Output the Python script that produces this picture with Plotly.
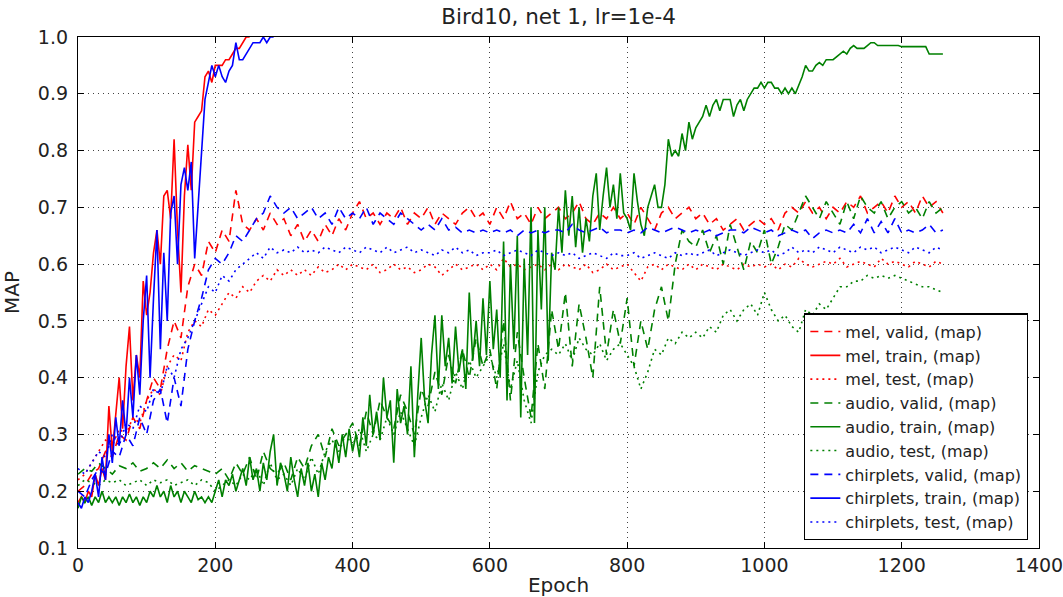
import plotly.graph_objects as go

# ---------------- data ----------------
mel_train_epochs = list(range(0, 251, 5))
mel_train = [0.18, 0.19, 0.18, 0.20, 0.19, 0.23, 0.21, 0.24, 0.22, 0.35,
             0.27, 0.33, 0.40, 0.31, 0.42, 0.49, 0.36, 0.44, 0.40, 0.57,
             0.51, 0.55, 0.62, 0.66, 0.60, 0.72, 0.73, 0.68, 0.82, 0.66,
             0.55, 0.72, 0.81, 0.73, 0.85, 0.86, 0.87, 0.93, 0.94, 0.92,
             0.95, 0.95, 0.95, 0.96, 0.96, 0.97, 0.98, 0.98, 0.99, 1.0,
             1.0]

chirp_train_epochs = list(range(0, 286, 5))
chirp_train = [0.18, 0.17, 0.19, 0.18, 0.20, 0.23, 0.19, 0.26, 0.22, 0.30,
               0.25, 0.33, 0.28, 0.36, 0.30, 0.40, 0.33, 0.44, 0.37, 0.50,
               0.58, 0.40, 0.54, 0.66, 0.45, 0.62, 0.50, 0.69, 0.72, 0.60,
               0.74, 0.77, 0.73, 0.78, 0.61, 0.70, 0.79, 0.89, 0.92, 0.95,
               0.93, 0.95, 0.93, 0.92, 0.94, 0.95, 0.99, 0.96, 0.96, 0.97,
               0.98, 0.99, 0.99, 0.99, 1.0, 0.99, 1.0, 1.0]

audio_train_epochs = list(range(0, 1261, 5))
audio_train = [0.17, 0.19, 0.18, 0.19, 0.175, 0.19, 0.18, 0.20, 0.18, 0.19,
               0.18, 0.19, 0.175, 0.19, 0.18, 0.195, 0.18, 0.19, 0.175, 0.19,
               0.18, 0.20, 0.19, 0.21, 0.19, 0.20, 0.18, 0.21, 0.19, 0.20,
               0.18, 0.20, 0.19, 0.18, 0.20, 0.185, 0.19, 0.18, 0.19, 0.18,
               0.20, 0.22, 0.19, 0.22, 0.21, 0.23, 0.20, 0.22, 0.24, 0.21,
               0.26, 0.22, 0.24, 0.20, 0.25, 0.22, 0.27, 0.30, 0.21, 0.25,
               0.23, 0.20, 0.26, 0.22, 0.19, 0.24, 0.21, 0.25, 0.20, 0.23,
               0.19, 0.25, 0.22, 0.26, 0.24, 0.29, 0.25, 0.30, 0.26, 0.31,
               0.27, 0.30, 0.26, 0.33, 0.28, 0.37, 0.30, 0.34, 0.29, 0.40,
               0.33, 0.36, 0.25, 0.38, 0.32, 0.35, 0.30, 0.42, 0.26, 0.37,
               0.47, 0.36, 0.32, 0.44, 0.51, 0.38, 0.51, 0.42, 0.47, 0.39,
               0.49, 0.41, 0.45, 0.38, 0.55, 0.43, 0.50, 0.42, 0.54, 0.44,
               0.57, 0.45, 0.52, 0.40, 0.64, 0.36, 0.60, 0.45, 0.65, 0.33,
               0.61, 0.44, 0.70, 0.32, 0.66, 0.52, 0.70, 0.43, 0.62, 0.59,
               0.70, 0.62, 0.73, 0.65, 0.72, 0.63, 0.70, 0.62, 0.68, 0.64,
               0.72, 0.76, 0.66, 0.72, 0.77, 0.70, 0.74, 0.68, 0.76, 0.69,
               0.68, 0.66, 0.76, 0.71, 0.67, 0.65, 0.70, 0.72, 0.74, 0.70,
               0.70, 0.74, 0.82, 0.79, 0.80, 0.79, 0.83, 0.80, 0.85, 0.82,
               0.84, 0.85, 0.86, 0.88, 0.86, 0.88, 0.89, 0.87, 0.89, 0.89,
               0.89, 0.86, 0.88, 0.89, 0.87, 0.89, 0.90, 0.91, 0.91, 0.92,
               0.91, 0.92, 0.92, 0.91, 0.91, 0.90, 0.91, 0.90, 0.91, 0.90,
               0.915, 0.93, 0.95, 0.94, 0.94, 0.95, 0.955, 0.95, 0.96, 0.96,
               0.96, 0.965, 0.97, 0.975, 0.97, 0.98, 0.985, 0.98, 0.98, 0.98,
               0.985, 0.99, 0.99, 0.985, 0.985, 0.985, 0.985, 0.985, 0.985, 0.985,
               0.983, 0.983, 0.983, 0.983, 0.983, 0.983, 0.983, 0.983, 0.97, 0.97,
               0.97, 0.97, 0.97]

epochs = list(range(0, 1261, 10))

mel_valid = [0.20, 0.21, 0.23, 0.24, 0.27, 0.26, 0.30, 0.29, 0.33, 0.31,
             0.36, 0.40, 0.38, 0.45, 0.50, 0.47, 0.56, 0.60, 0.58, 0.64,
             0.62, 0.66, 0.64, 0.73, 0.67, 0.66, 0.68, 0.66, 0.69, 0.67,
             0.68, 0.65, 0.67, 0.64, 0.66, 0.64, 0.67, 0.65, 0.68, 0.66,
             0.69, 0.71, 0.68, 0.69, 0.67, 0.69, 0.68, 0.70, 0.67, 0.69,
             0.68, 0.70, 0.67, 0.69, 0.68, 0.67, 0.69, 0.70, 0.68, 0.69,
             0.67, 0.70, 0.68, 0.71, 0.68, 0.69, 0.67, 0.70, 0.68, 0.69,
             0.70, 0.68, 0.69, 0.71, 0.68, 0.67, 0.69, 0.68, 0.70, 0.68,
             0.69, 0.67, 0.70, 0.68, 0.66, 0.69, 0.70, 0.68, 0.69, 0.70,
             0.68, 0.69, 0.67, 0.68, 0.66, 0.67, 0.68, 0.66, 0.67, 0.68,
             0.67, 0.68, 0.66, 0.69, 0.70, 0.69, 0.71, 0.69, 0.70, 0.68,
             0.70, 0.69, 0.71, 0.70, 0.72, 0.69, 0.70, 0.71, 0.69, 0.72,
             0.70, 0.71, 0.69, 0.72, 0.70, 0.71, 0.69]

mel_test = [0.22, 0.23, 0.25, 0.27, 0.29, 0.28, 0.31, 0.30, 0.33, 0.32,
            0.36, 0.38, 0.37, 0.42, 0.44, 0.43, 0.48, 0.50, 0.49, 0.52,
            0.51, 0.53, 0.55, 0.54, 0.56, 0.55, 0.57, 0.58, 0.57, 0.59,
            0.58, 0.59, 0.58, 0.59, 0.58, 0.595, 0.585, 0.59, 0.60, 0.59,
            0.60, 0.595, 0.59, 0.60, 0.585, 0.59, 0.60, 0.59, 0.595, 0.585,
            0.59, 0.60, 0.595, 0.58, 0.59, 0.60, 0.59, 0.595, 0.60, 0.59,
            0.60, 0.59, 0.61, 0.595, 0.60, 0.59, 0.595, 0.60, 0.59, 0.60,
            0.59, 0.60, 0.595, 0.59, 0.60, 0.585, 0.59, 0.60, 0.59, 0.595,
            0.60, 0.585, 0.57, 0.595, 0.60, 0.59, 0.60, 0.595, 0.59, 0.60,
            0.59, 0.60, 0.595, 0.59, 0.60, 0.595, 0.59, 0.60, 0.595, 0.60,
            0.595, 0.60, 0.59, 0.60, 0.595, 0.61, 0.60, 0.595, 0.60, 0.605,
            0.60, 0.61, 0.595, 0.60, 0.605, 0.60, 0.595, 0.61, 0.60, 0.605,
            0.60, 0.595, 0.605, 0.60, 0.595, 0.605, 0.60]

chirp_valid = [0.20, 0.19, 0.22, 0.24, 0.23, 0.27, 0.26, 0.30, 0.28, 0.33,
               0.30, 0.36, 0.38, 0.32, 0.40, 0.35, 0.45, 0.50, 0.54, 0.59,
               0.61, 0.60, 0.62, 0.65, 0.64, 0.66, 0.68, 0.69, 0.72, 0.70,
               0.69, 0.70, 0.68, 0.69, 0.70, 0.68, 0.69, 0.67, 0.70, 0.68,
               0.69, 0.68, 0.70, 0.67, 0.69, 0.68, 0.67, 0.69, 0.68, 0.67,
               0.66, 0.67, 0.66, 0.68, 0.66, 0.665, 0.655, 0.66, 0.655, 0.66,
               0.655, 0.66, 0.655, 0.66, 0.65, 0.66, 0.655, 0.66, 0.655, 0.66,
               0.66, 0.655, 0.67, 0.66, 0.655, 0.66, 0.665, 0.655, 0.66, 0.66,
               0.655, 0.66, 0.655, 0.665, 0.66, 0.655, 0.66, 0.665, 0.66, 0.655,
               0.66, 0.655, 0.66, 0.65, 0.655, 0.66, 0.66, 0.655, 0.665, 0.66,
               0.655, 0.66, 0.65, 0.655, 0.66, 0.655, 0.66, 0.645, 0.655, 0.66,
               0.655, 0.66, 0.655, 0.67, 0.655, 0.68, 0.655, 0.675, 0.655, 0.68,
               0.655, 0.66, 0.655, 0.66, 0.67, 0.655, 0.66]

chirp_test = [0.24, 0.23, 0.25, 0.27, 0.26, 0.30, 0.28, 0.32, 0.31, 0.35,
              0.34, 0.38, 0.37, 0.42, 0.40, 0.45, 0.47, 0.50, 0.53, 0.56,
              0.55, 0.58, 0.57, 0.59, 0.60, 0.61, 0.62, 0.61, 0.63, 0.62,
              0.625, 0.62, 0.63, 0.62, 0.625, 0.62, 0.63, 0.625, 0.62, 0.63,
              0.625, 0.62, 0.63, 0.625, 0.62, 0.63, 0.62, 0.625, 0.63, 0.62,
              0.625, 0.62, 0.615, 0.625, 0.62, 0.63, 0.62, 0.625, 0.615, 0.62,
              0.62, 0.625, 0.615, 0.62, 0.625, 0.62, 0.615, 0.625, 0.62, 0.615,
              0.62, 0.615, 0.62, 0.61, 0.615, 0.62, 0.615, 0.61, 0.62, 0.615,
              0.615, 0.62, 0.61, 0.615, 0.62, 0.615, 0.61, 0.62, 0.615, 0.62,
              0.615, 0.62, 0.625, 0.615, 0.62, 0.625, 0.62, 0.615, 0.62, 0.625,
              0.62, 0.625, 0.615, 0.62, 0.63, 0.62, 0.625, 0.62, 0.63, 0.625,
              0.62, 0.63, 0.625, 0.62, 0.63, 0.625, 0.63, 0.62, 0.625, 0.63,
              0.625, 0.62, 0.63, 0.625, 0.62, 0.63, 0.625]

audio_valid = [0.23, 0.24, 0.235, 0.25, 0.24, 0.23, 0.245, 0.24, 0.25, 0.235,
               0.24, 0.25, 0.24, 0.255, 0.24, 0.25, 0.235, 0.245, 0.24, 0.235,
               0.23, 0.24, 0.22, 0.25, 0.23, 0.26, 0.22, 0.27, 0.24, 0.23,
               0.25, 0.22, 0.26, 0.24, 0.28, 0.30, 0.26, 0.31, 0.28, 0.30,
               0.32, 0.28, 0.34, 0.30, 0.36, 0.33, 0.31, 0.37, 0.34, 0.30,
               0.38, 0.35, 0.41, 0.37, 0.44, 0.39, 0.45, 0.40, 0.47, 0.42,
               0.45, 0.38, 0.50, 0.36, 0.48, 0.40, 0.33, 0.46, 0.38, 0.52,
               0.45, 0.55, 0.42, 0.53, 0.47, 0.40, 0.56, 0.44, 0.52, 0.46,
               0.54, 0.42, 0.50, 0.45, 0.52, 0.56, 0.50, 0.60, 0.66, 0.64,
               0.63, 0.66, 0.62, 0.65, 0.60, 0.67, 0.63, 0.59, 0.64, 0.62,
               0.66, 0.60, 0.63, 0.67, 0.66, 0.69, 0.72, 0.70, 0.68, 0.71,
               0.69, 0.67, 0.71, 0.68, 0.72, 0.70, 0.69, 0.71, 0.68, 0.70,
               0.71, 0.69, 0.70, 0.68, 0.71, 0.69, 0.70]

audio_test = [0.21, 0.22, 0.215, 0.21, 0.22, 0.215, 0.22, 0.21, 0.215, 0.22,
              0.21, 0.22, 0.215, 0.22, 0.21, 0.215, 0.22, 0.21, 0.22, 0.215,
              0.20, 0.21, 0.22, 0.21, 0.23, 0.22, 0.24, 0.21, 0.25, 0.22,
              0.23, 0.21, 0.24, 0.22, 0.26, 0.23, 0.27, 0.29, 0.27, 0.30,
              0.28, 0.31, 0.27, 0.30, 0.29, 0.33, 0.30, 0.34, 0.31, 0.28,
              0.33, 0.37, 0.34, 0.39, 0.36, 0.41, 0.38, 0.43, 0.40, 0.42,
              0.44, 0.40, 0.46, 0.38, 0.43, 0.36, 0.32, 0.41, 0.44, 0.45,
              0.44, 0.46, 0.43, 0.47, 0.45, 0.44, 0.46, 0.43, 0.45, 0.46,
              0.44, 0.42, 0.38, 0.41, 0.45, 0.44, 0.47, 0.46, 0.48, 0.47,
              0.48, 0.47, 0.49, 0.48, 0.51, 0.52, 0.50, 0.52, 0.53, 0.51,
              0.55, 0.52, 0.50, 0.51, 0.49, 0.48, 0.52, 0.51, 0.53, 0.52,
              0.54, 0.56, 0.56, 0.57, 0.57, 0.58, 0.575, 0.58, 0.575, 0.58,
              0.575, 0.57, 0.565, 0.56, 0.56, 0.555, 0.55]

# ---------------- figure ----------------
RED, GREEN, BLUE = "#ff0000", "#008000", "#0000ff"
DASH = "8px,6px"
DOT = "2px,4px"
LW = 1.6

traces = [
    ("mel, valid, (map)", epochs, mel_valid, RED, DASH),
    ("mel, train, (map)", mel_train_epochs, mel_train, RED, "solid"),
    ("mel, test, (map)", epochs, mel_test, RED, DOT),
    ("audio, valid, (map)", epochs, audio_valid, GREEN, DASH),
    ("audio, train, (map)", audio_train_epochs, audio_train, GREEN, "solid"),
    ("audio, test, (map)", epochs, audio_test, GREEN, DOT),
    ("chirplets, valid, (map)", epochs, chirp_valid, BLUE, DASH),
    ("chirplets, train, (map)", chirp_train_epochs, chirp_train, BLUE, "solid"),
    ("chirplets, test, (map)", epochs, chirp_test, BLUE, DOT),
]

fig = go.Figure()
for name, x, y, color, dash in traces:
    fig.add_trace(go.Scatter(x=x, y=y, mode="lines", name=name,
                             line=dict(color=color, width=LW, dash=dash)))

FONT = "DejaVu Sans"
axis_common = dict(
    showline=True, linecolor="black", linewidth=1.3, mirror="allticks",
    ticks="inside", ticklen=6, tickwidth=1, tickcolor="black",
    showgrid=True, gridcolor="#444444", griddash="1px,4px", gridwidth=1,
    zeroline=False, tickfont=dict(family=FONT, size=19, color="#222222"),
    ticklabeloverflow="allow",
)

fig.update_xaxes(range=[0, 1400], tick0=0, dtick=200, ticklabelstandoff=0,
                 title=dict(text="Epoch", font=dict(family=FONT, size=20, color="#222222"),
                            standoff=4),
                 automargin=False, **axis_common)
fig.update_yaxes(range=[0.1, 1.0], tick0=0.1, dtick=0.1, tickformat=".1f",
                 ticklabelstandoff=5,
                 title=dict(text="MAP", font=dict(family=FONT, size=20, color="#222222"),
                            standoff=12),
                 automargin=False, **axis_common)

fig.update_layout(
    width=1063, height=597,
    margin=dict(l=78, r=24, t=37, b=49),
    paper_bgcolor="white", plot_bgcolor="white",
    font=dict(family=FONT, color="#222222"),
    title=dict(text="Bird10, net 1, lr=1e-4", x=0.5255, xanchor="center",
               yref="container", y=1 - 16 / 597, yanchor="middle",
               font=dict(family=FONT, size=21.5, color="#222222")),
    showlegend=True,
    legend=dict(x=0.9886, xanchor="right", y=0.015, yanchor="bottom",
                bgcolor="white", bordercolor="black", borderwidth=1.3,
                font=dict(family=FONT, size=16, color="#222222"),
                tracegroupgap=0, itemwidth=30),
)

fig.write_html("out.html", config={"displayModeBar": False})
